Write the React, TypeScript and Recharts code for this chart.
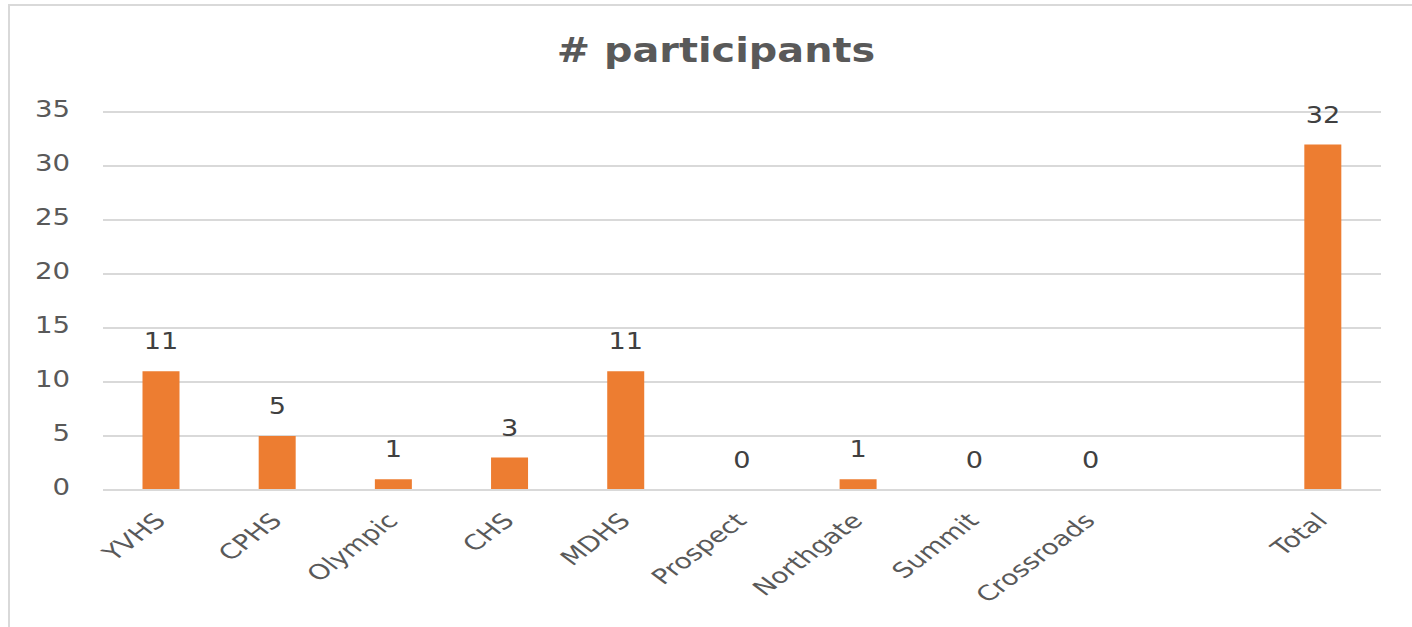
import React from "react"
import { ComposedChart, Bar, Line, XAxis, YAxis, CartesianGrid, LabelList } from "recharts"

const schools = ["YVHS", "CPHS", "Olympic", "CHS", "MDHS", "Prospect", "Northgate", "Summit", "Crossroads", "", "Total"]
const participants: (number | null)[] = [11, 5, 1, 3, 11, 0, 1, 0, 0, null, 32]
const yTicks = [0, 5, 10, 15, 20, 25, 30, 35]

const datos = schools.map((name, i) => ({ name, value: participants[i] }))

const FONT = "'DejaVu Sans', Verdana, sans-serif"

// the source picture is stretched sideways, so text is widened a bit
const XTick = ({ x, y, payload }: any) => {
  if (!payload.value) return null
  return (
    <g transform={`translate(${x + 6},${y + 24}) scale(1.33,1) rotate(-45)`}>
      <text x={0} y={0} textAnchor="end" fill="#595959" fontSize={21} fontFamily={FONT}>
        {payload.value}
      </text>
    </g>
  )
}

const YTick = ({ x, y, payload }: any) => (
  <g transform={`translate(${x},${y - 3}) scale(1.2,1)`}>
    <text x={0} y={0} dy="0.36em" textAnchor="end" fill="#595959" fontSize={23} fontFamily={FONT}>
      {payload.value}
    </text>
  </g>
)

// labels hang off an invisible line so that zero values get one too
const renderValueLabel = (props: any) => {
  const { x, y, value } = props
  if (value === null || value === undefined || x == null || y == null) return null
  return (
    <g transform={`translate(${Number(x)},${Number(y) - 30}) scale(1.18,1)`}>
      <text x={0} y={0} dy="0.36em" textAnchor="middle" fill="#404040" fontSize={23} fontFamily={FONT}>
        {value}
      </text>
    </g>
  )
}

export default function App() {
  return (
    <div style={{ position: "absolute", left: 0, top: 0, width: 1412, height: 627, background: "#fff", overflow: "hidden" }}>
      <div
        style={{
          position: "absolute",
          left: 8,
          top: 4,
          width: 1420,
          height: 640,
          borderTop: "2px solid #d9d9d9",
          borderLeft: "2px solid #d9d9d9",
        }}
      />
      <div
        style={{
          position: "absolute",
          left: 0,
          width: 1432,
          top: 30,
          textAlign: "center",
          fontFamily: FONT,
          fontWeight: "bold",
          fontSize: 34,
          color: "#595959",
          transform: "scaleX(1.17)",
          transformOrigin: "716px 0",
        }}
      >
        # participants
      </div>
      <ComposedChart
        width={1412}
        height={627}
        data={datos}
        margin={{ top: 112, right: 31, left: 33, bottom: 10 }}
        barCategoryGap="34%"
        style={{ position: "absolute", left: 0, top: 0 }}
      >
        <CartesianGrid vertical={false} stroke="#d9d9d9" strokeWidth={2} />
        <XAxis
          dataKey="name"
          axisLine={{ stroke: "#d9d9d9", strokeWidth: 2 }}
          tickLine={false}
          tick={<XTick />}
          interval={0}
          height={127}
        />
        <YAxis
          domain={[0, 35]}
          ticks={yTicks}
          axisLine={false}
          tickLine={false}
          tickSize={0}
          tickMargin={33}
          width={70}
          tick={<YTick />}
        />
        <Bar dataKey="value" fill="#ed7d31" isAnimationActive={false} />
        <Line
          dataKey="value"
          stroke="none"
          dot={false}
          activeDot={false}
          legendType="none"
          isAnimationActive={false}
        >
          <LabelList dataKey="value" content={renderValueLabel} />
        </Line>
      </ComposedChart>
    </div>
  )
}
